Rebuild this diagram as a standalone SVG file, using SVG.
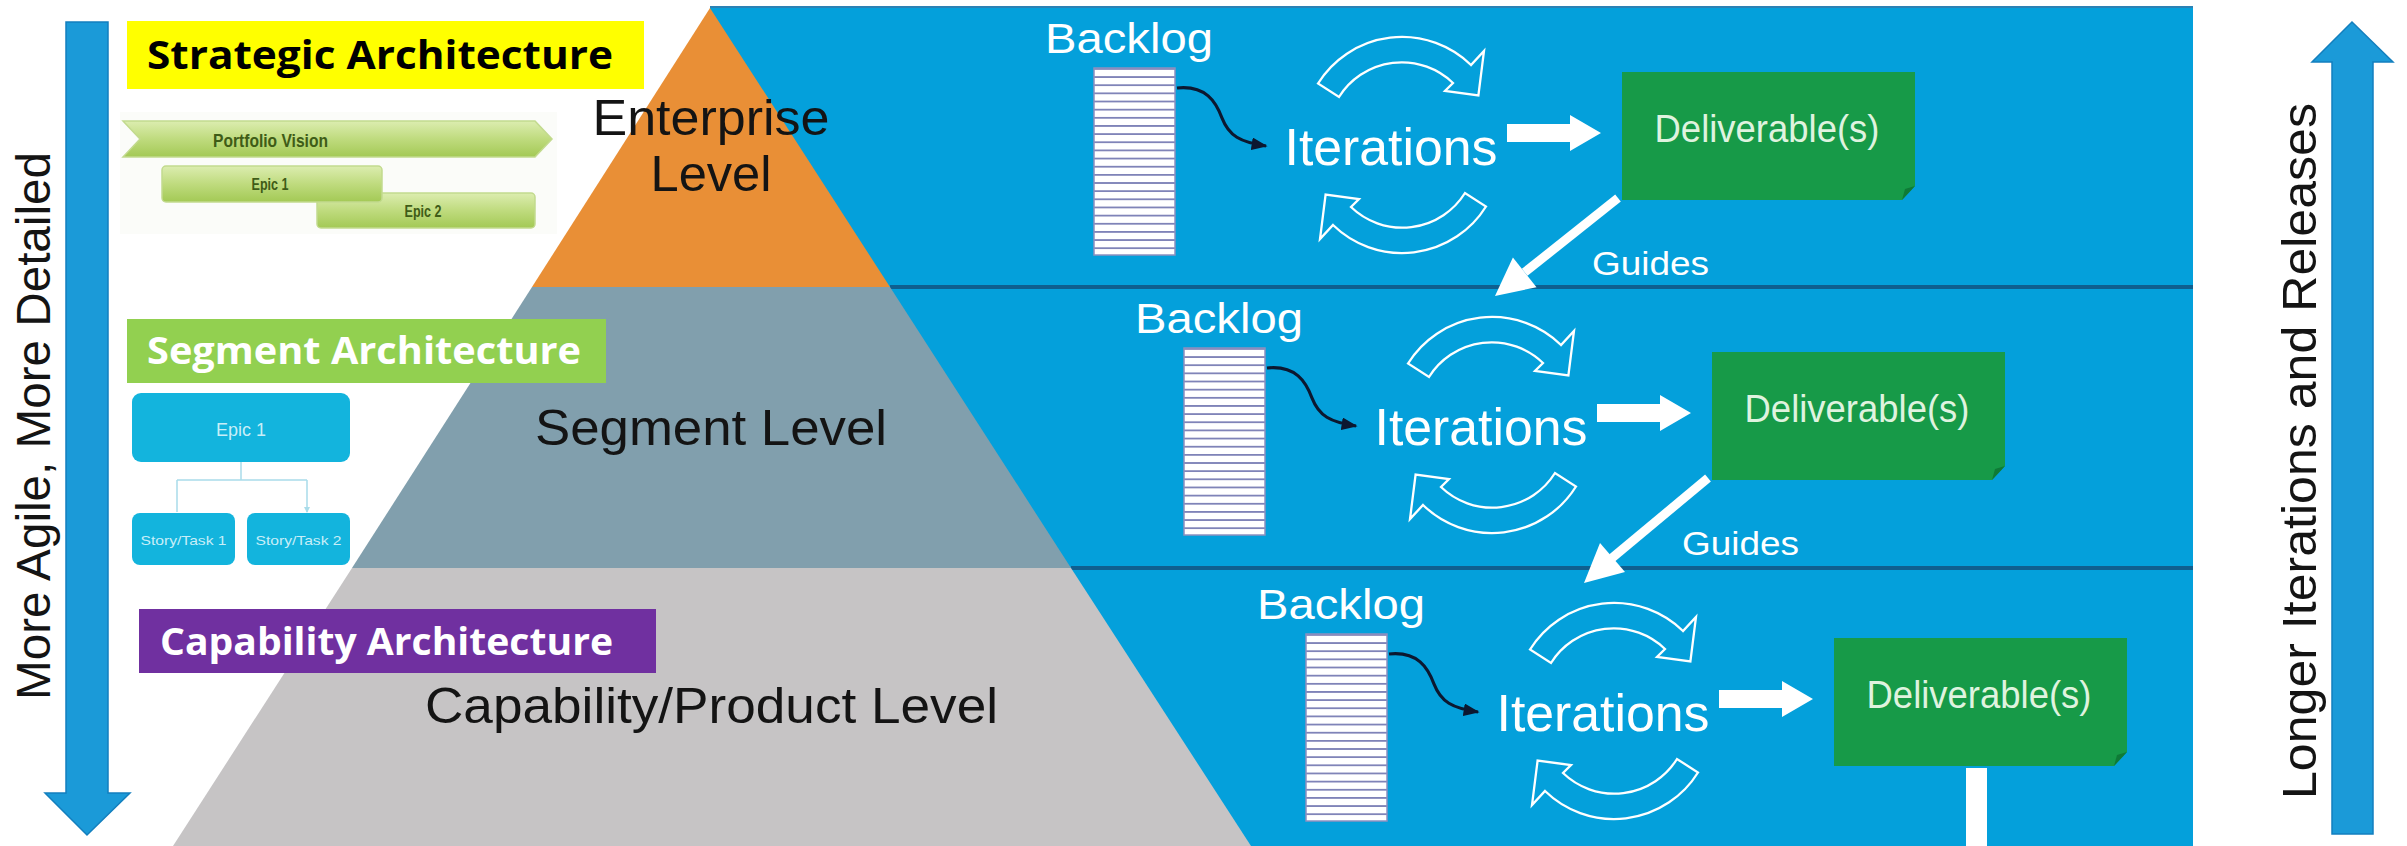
<svg xmlns="http://www.w3.org/2000/svg" width="2407" height="846" viewBox="0 0 2407 846">
<defs>
<style>
.lvl{font-family:"Liberation Sans",Arial,sans-serif;font-size:50px;fill:#141414;}
.wt{font-family:"Liberation Sans",Arial,sans-serif;fill:#ffffff;}
.arch{font-family:"Open Sans","Liberation Sans",sans-serif;font-weight:700;}
.cyc{fill:none;stroke:#ffffff;stroke-width:2.3;}
.curvy{fill:none;stroke:#0c1830;stroke-width:3.2;}
.divider{stroke:#0f5f8f;stroke-width:4;}
.fat{fill:#ffffff;}
.bigarrow{fill:#1b9ad8;stroke:#137fbe;stroke-width:1.5;}
.gbar{fill:url(#gbar);stroke:#c2da8e;stroke-width:1.5;}
.gtxt{font-family:"Liberation Sans",Arial,sans-serif;font-weight:700;fill:#3f5c17;}
.bbox{fill:#13b4dd;}
.btxt{font-family:"Liberation Sans",Arial,sans-serif;fill:#c8eef8;}
.deliv{fill:#179a48;}
.dtxt{font-family:"Liberation Sans",Arial,sans-serif;fill:#dff3df;}
.backlog{fill:url(#stripes);stroke:#8d90c0;stroke-width:1.5;}
</style>
<pattern id="stripes" patternUnits="userSpaceOnUse" x="0" y="68" width="100" height="8.15">
<rect width="100" height="8.15" fill="#ffffff"/>
<rect y="0" width="100" height="1.8" fill="#7f83b8"/>
</pattern>
<linearGradient id="gbar" x1="0" y1="0" x2="0" y2="1">
<stop offset="0" stop-color="#dcedb0"/>
<stop offset="0.5" stop-color="#bfdb7e"/>
<stop offset="1" stop-color="#a3c955"/>
</linearGradient>
<marker id="mk" markerWidth="5" markerHeight="4" refX="4.5" refY="2" orient="auto" markerUnits="strokeWidth">
<path d="M0,0 L5,2 L0,4 Z" fill="#0c1830"/>
</marker>
<marker id="mks" markerWidth="6" markerHeight="6" refX="5" refY="3" orient="auto" markerUnits="userSpaceOnUse">
<path d="M0,0 L6,3 L0,6 Z" fill="#a9dcea"/>
</marker>
</defs>

<rect width="2407" height="846" fill="#ffffff"/>

<!-- main blue panel -->
<g id="panel">
<rect x="710" y="7" width="1483" height="839" fill="#04a0db"/>
<line x1="710" y1="7" x2="2193" y2="7" stroke="#2b82b5" stroke-width="2"/>
<line class="divider" x1="890" y1="287" x2="2193" y2="287"/>
<line class="divider" x1="1071" y1="568" x2="2193" y2="568"/>
</g>

<!-- pyramid -->
<g id="enterprise-level">
<polygon points="710,8 890,287 532,287" fill="#e98f36"/>
<text class="lvl" x="711" y="135" text-anchor="middle" textLength="237" lengthAdjust="spacingAndGlyphs">Enterprise</text>
<text class="lvl" x="711" y="191" text-anchor="middle" textLength="121" lengthAdjust="spacingAndGlyphs">Level</text>
</g>
<g id="segment-level">
<polygon points="532,287 890,287 1071,568 352,568" fill="#819fad"/>
<text class="lvl" x="535" y="445" textLength="352" lengthAdjust="spacingAndGlyphs">Segment Level</text>
</g>
<g id="capability-level">
<polygon points="352,568 1071,568 1251,846 173,846" fill="#c6c4c5"/>
<text class="lvl" x="425" y="723" textLength="573" lengthAdjust="spacingAndGlyphs">Capability/Product Level</text>
</g>

<!-- left arrow -->
<g id="more-agile">
<polygon class="bigarrow" points="66,22 108,22 108,793 130,793 87,835 45,793 66,793"/>
<text class="lvl" transform="translate(50,426) rotate(-90)" text-anchor="middle" textLength="548" lengthAdjust="spacingAndGlyphs" style="font-size:48px">More Agile, More Detailed</text>
</g>

<!-- right arrow -->
<g id="longer-iterations">
<polygon class="bigarrow" points="2332,834 2332,62 2312,62 2352,22 2393,62 2373,62 2373,834"/>
<text class="lvl" transform="translate(2316,451) rotate(-90)" text-anchor="middle" textLength="696" lengthAdjust="spacingAndGlyphs" style="font-size:48px">Longer Iterations and Releases</text>
</g>

<!-- architecture labels -->
<g id="strategic-architecture">
<rect x="127" y="21" width="517" height="68" fill="#ffff00"/>
<text class="arch" x="147" y="69" font-size="40" fill="#000000" textLength="466" lengthAdjust="spacingAndGlyphs">Strategic Architecture</text>
</g>
<g id="portfolio-vision">
<rect x="120" y="112" width="437" height="122" fill="#fbfcf9"/>
<polygon class="gbar" points="123,121 535,121 552,139 535,157 123,157 140,139"/>
<text class="gtxt" x="213" y="147" font-size="19" textLength="115" lengthAdjust="spacingAndGlyphs">Portfolio Vision</text>
<rect class="gbar" x="317" y="193" width="218" height="35" rx="4"/>
<text class="gtxt" x="423" y="217" font-size="17" text-anchor="middle" textLength="37" lengthAdjust="spacingAndGlyphs">Epic 2</text>
<rect class="gbar" x="162" y="166" width="220" height="36" rx="4"/>
<text class="gtxt" x="270" y="190" font-size="17" text-anchor="middle" textLength="37" lengthAdjust="spacingAndGlyphs">Epic 1</text>
</g>

<g id="segment-architecture">
<rect x="127" y="319" width="479" height="64" fill="#92d050"/>
<text class="arch" x="147" y="364" font-size="37" fill="#ffffff" textLength="434" lengthAdjust="spacingAndGlyphs">Segment Architecture</text>
</g>
<g id="epic-tree">
<rect class="bbox" x="132" y="393" width="218" height="69" rx="9"/>
<text class="btxt" x="241" y="436" font-size="18" text-anchor="middle" textLength="50" lengthAdjust="spacingAndGlyphs">Epic 1</text>
<path d="M241,462 V480 M177,480 H307" fill="none" stroke="#a9dcea" stroke-width="1.5"/>
<path d="M177,480 V512 M307,480 V512" fill="none" stroke="#a9dcea" stroke-width="1.5" marker-end="url(#mks)"/>
<rect class="bbox" x="132" y="513" width="103" height="52" rx="8"/>
<text class="btxt" x="183.5" y="545" font-size="13" text-anchor="middle" textLength="86" lengthAdjust="spacingAndGlyphs">Story/Task 1</text>
<rect class="bbox" x="247" y="513" width="103" height="52" rx="8"/>
<text class="btxt" x="298.5" y="545" font-size="13" text-anchor="middle" textLength="86" lengthAdjust="spacingAndGlyphs">Story/Task 2</text>
</g>

<g id="capability-architecture">
<rect x="139" y="609" width="517" height="64" fill="#7030a0"/>
<text class="arch" x="160" y="655" font-size="38" fill="#ffffff" textLength="453" lengthAdjust="spacingAndGlyphs">Capability Architecture</text>
</g>

<!-- row 1 -->
<g id="row1">
<g id="backlog-1">
<text class="wt" x="1045" y="53" font-size="42" textLength="168" lengthAdjust="spacingAndGlyphs">Backlog</text>
<rect class="backlog" x="1094" y="68" width="81" height="187"/>
</g>
<g id="iterations-1">
<path class="cyc" d="M1318,83.5 A99,99 0 0 1 1471,65 L1484,51 L1478.4,95.4 L1445,91 L1453,83 A74,74 0 0 0 1339,97 Z"/>
<path class="cyc" transform="rotate(180 1402 145)" d="M1318,83.5 A99,99 0 0 1 1471,65 L1484,51 L1478.4,95.4 L1445,91 L1453,83 A74,74 0 0 0 1339,97 Z"/>
<text class="wt" x="1391" y="165" font-size="52" text-anchor="middle" textLength="213" lengthAdjust="spacingAndGlyphs">Iterations</text>
</g>
<g id="deliverable-1">
<path class="deliv" d="M1622,72 H1915 V186 L1902,200 H1622 Z"/>
<path d="M1902,200 L1915,186 L1905,189 Z" fill="#0f7a36"/>
<text class="dtxt" x="1767" y="142" font-size="38" text-anchor="middle" textLength="225" lengthAdjust="spacingAndGlyphs">Deliverable(s)</text>
</g>
</g>

<!-- row 2 -->
<g id="row2" transform="translate(90,280)">
<g id="backlog-2">
<text class="wt" x="1045" y="53" font-size="42" textLength="168" lengthAdjust="spacingAndGlyphs">Backlog</text>
<rect class="backlog" x="1094" y="68" width="81" height="187"/>
</g>
<g id="iterations-2">
<path class="cyc" d="M1318,83.5 A99,99 0 0 1 1471,65 L1484,51 L1478.4,95.4 L1445,91 L1453,83 A74,74 0 0 0 1339,97 Z"/>
<path class="cyc" transform="rotate(180 1402 145)" d="M1318,83.5 A99,99 0 0 1 1471,65 L1484,51 L1478.4,95.4 L1445,91 L1453,83 A74,74 0 0 0 1339,97 Z"/>
<text class="wt" x="1391" y="165" font-size="52" text-anchor="middle" textLength="213" lengthAdjust="spacingAndGlyphs">Iterations</text>
</g>
<g id="deliverable-2">
<path class="deliv" d="M1622,72 H1915 V186 L1902,200 H1622 Z"/>
<path d="M1902,200 L1915,186 L1905,189 Z" fill="#0f7a36"/>
<text class="dtxt" x="1767" y="142" font-size="38" text-anchor="middle" textLength="225" lengthAdjust="spacingAndGlyphs">Deliverable(s)</text>
</g>
</g>

<!-- row 3 -->
<g id="row3" transform="translate(212,566)">
<g id="backlog-3">
<text class="wt" x="1045" y="53" font-size="42" textLength="168" lengthAdjust="spacingAndGlyphs">Backlog</text>
<rect class="backlog" x="1094" y="68" width="81" height="187"/>
</g>
<g id="iterations-3">
<path class="cyc" d="M1318,83.5 A99,99 0 0 1 1471,65 L1484,51 L1478.4,95.4 L1445,91 L1453,83 A74,74 0 0 0 1339,97 Z"/>
<path class="cyc" transform="rotate(180 1402 145)" d="M1318,83.5 A99,99 0 0 1 1471,65 L1484,51 L1478.4,95.4 L1445,91 L1453,83 A74,74 0 0 0 1339,97 Z"/>
<text class="wt" x="1391" y="165" font-size="52" text-anchor="middle" textLength="213" lengthAdjust="spacingAndGlyphs">Iterations</text>
</g>
<g id="deliverable-3">
<path class="deliv" d="M1622,72 H1915 V186 L1902,200 H1622 Z"/>
<path d="M1902,200 L1915,186 L1905,189 Z" fill="#0f7a36"/>
<text class="dtxt" x="1767" y="142" font-size="38" text-anchor="middle" textLength="225" lengthAdjust="spacingAndGlyphs">Deliverable(s)</text>
</g>
</g>

<!-- connectors -->
<g id="connectors">
<g id="conn-row1">
<path class="curvy" d="M1177,88 C1206,85 1216,102 1222,118 C1229,136 1240,142 1266,146" marker-end="url(#mk)"/>
<polygon class="fat" points="1507,124 1570,124 1570,115 1601,133 1570,151 1570,142 1507,142"/>
<line x1="1618" y1="198" x2="1524.7" y2="272.3" stroke="#ffffff" stroke-width="9"/>
<polygon class="fat" points="1495,296 1536.5,287.2 1512.9,257.4"/>
<text class="wt" x="1592" y="275" font-size="33" textLength="117" lengthAdjust="spacingAndGlyphs">Guides</text>
</g>
<g id="conn-row2" transform="translate(90,280)">
<path class="curvy" d="M1177,88 C1206,85 1216,102 1222,118 C1229,136 1240,142 1266,146" marker-end="url(#mk)"/>
<polygon class="fat" points="1507,124 1570,124 1570,115 1601,133 1570,151 1570,142 1507,142"/>
<line x1="1618" y1="198" x2="1522" y2="278" stroke="#ffffff" stroke-width="9"/>
<polygon class="fat" points="1494,303 1535,292 1510,263"/>
<text class="wt" x="1592" y="275" font-size="33" textLength="117" lengthAdjust="spacingAndGlyphs">Guides</text>
</g>
<g id="conn-row3" transform="translate(212,566)">
<path class="curvy" d="M1177,88 C1206,85 1216,102 1222,118 C1229,136 1240,142 1266,146" marker-end="url(#mk)"/>
<polygon class="fat" points="1507,124 1570,124 1570,115 1601,133 1570,151 1570,142 1507,142"/>
</g>
<rect x="1966" y="768" width="21" height="78" fill="#ffffff"/>
</g>
</svg>
